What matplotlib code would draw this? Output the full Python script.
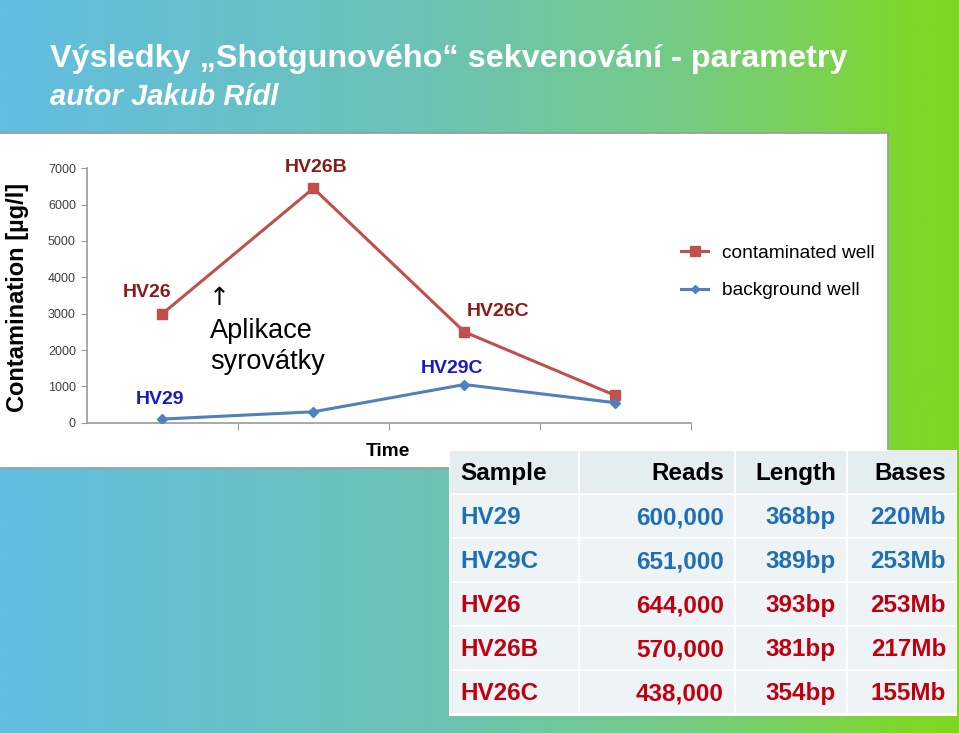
import numpy as np
import matplotlib
matplotlib.use("Agg")
import matplotlib.pyplot as plt
from matplotlib.colors import LinearSegmentedColormap
from matplotlib.patches import Rectangle
from matplotlib.lines import Line2D

# ---------------- data ----------------
time_points = [1, 2, 3, 4]
contaminated = [3000, 6450, 2500, 750]
background = [100, 300, 1050, 550]
red_labels = {0: "HV26", 1: "HV26B", 2: "HV26C"}
blue_labels = {0: "HV29", 2: "HV29C"}
yticks = [0, 1000, 2000, 3000, 4000, 5000, 6000, 7000]

table_header = ["Sample", "Reads", "Length", "Bases"]
samples = ["HV29", "HV29C", "HV26", "HV26B", "HV26C"]
reads = ["600,000", "651,000", "644,000", "570,000", "438,000"]
lengths = ["368bp", "389bp", "393bp", "381bp", "354bp"]
bases = ["220Mb", "253Mb", "253Mb", "217Mb", "155Mb"]
row_groups = ["blue", "blue", "red", "red", "red"]

W, H = 959, 733
fig = plt.figure(figsize=(W / 100, H / 100), dpi=100)
plt.rcParams['font.family'] = ['Liberation Sans', 'DejaVu Sans']

def fx(px):
    return px / W

def fy(py):
    return 1 - py / H

# ---------------- background gradient ----------------
bg = fig.add_axes([0, 0, 1, 1], zorder=0)
bg.set_axis_off()
cmap = LinearSegmentedColormap.from_list("slide", [
    (0.0, (98/255, 190/255, 226/255)),
    (0.45, (108/255, 195/255, 180/255)),
    (0.70, (116/255, 203/255, 135/255)),
    (0.85, (122/255, 210/255, 85/255)),
    (0.95, (126/255, 214/255, 40/255)),
    (1.0, (126/255, 215/255, 35/255)),
])
grad = np.linspace(0, 1, 512)[None, :]
bg.imshow(grad, aspect="auto", cmap=cmap, extent=[0, 1, 0, 1])
bg.set_xlim(0, 1)
bg.set_ylim(0, 1)

# title
fig.text(fx(50), fy(67), "Výsledky „Shotgunového“ sekvenování - parametry",
         color="white", fontsize=23.3, fontweight="bold", va="baseline", ha="left")
fig.text(fx(50), fy(105), "autor Jakub Rídl", color="white", fontsize=21,
         fontweight="bold", style="italic", va="baseline", ha="left")

# white chart picture
pic = Rectangle((fx(-2), fy(468)), fx(890), fy(133) - fy(468),
                transform=fig.transFigure, facecolor="white",
                edgecolor="#9a9a9a", linewidth=1.2, zorder=1)
fig.patches.append(pic)

# ---------------- chart ----------------
ax = fig.add_axes([fx(87), fy(422.7), fx(690.7 - 87), fy(168.3) - fy(422.7)], zorder=2)
ax.patch.set_alpha(0)
red_line = "#C0504D"
blue_line = "#4F81BD"
ax.plot(time_points, contaminated, color=red_line, lw=2.2, marker="s", ms=6.5,
        markerfacecolor=red_line, markeredgecolor=red_line, zorder=3)
ax.plot(time_points, background, color=blue_line, lw=2.2, marker="D", ms=5,
        markerfacecolor=blue_line, markeredgecolor=blue_line, zorder=3)
ax.set_xlim(0.5, 4.5)
ax.set_ylim(0, 7000)
ax.set_yticks(yticks)
ax.set_yticklabels([str(v) for v in yticks], fontsize=9, color="#404040")
ax.set_xticks([1.5, 2.5, 3.5, 4.5])
ax.set_xticklabels([])
ax.tick_params(axis="y", length=4, color="#999999", pad=4)
ax.tick_params(axis="x", length=5, color="#999999", direction="out")
for s in ["top", "right"]:
    ax.spines[s].set_visible(False)
ax.spines["left"].set_color("#999999")
ax.spines["bottom"].set_color("#999999")
ax.spines["left"].set_linewidth(1.2)
ax.spines["bottom"].set_linewidth(1.2)

red_text = "#8B1A1A"
blue_text = "#1A1AC8"
red_offsets = {0: (-11, 15), 1: (2, 15), 2: (24, 14.4)}
for i, lab in red_labels.items():
    dx, dy = red_offsets[i]
    ax.annotate(lab, (time_points[i], contaminated[i]), xytext=(dx, dy),
                textcoords="offset points", ha="center", va="center",
                fontsize=14, fontweight="bold", color=red_text)
blue_offsets = {0: (-1.5, 14.4), 2: (-8.6, 11.5)}
for i, lab in blue_labels.items():
    dx, dy = blue_offsets[i]
    ax.annotate(lab, (time_points[i], background[i]), xytext=(dx, dy),
                textcoords="offset points", ha="center", va="center",
                fontsize=14, fontweight="bold", color=blue_text)

fig.text(fx(18), fy(297), "Contamination [µg/l]", rotation=90, fontsize=17,
         fontweight="bold", ha="center", va="center", color="black", zorder=3)
fig.text(fx(388), fy(451), "Time", fontsize=13.8, fontweight="bold",
         ha="center", va="center", color="black", zorder=3)

# annotation
fig.text(fx(209), fy(298), "↑", fontsize=18, ha="left", va="center", zorder=3,
         family=["DejaVu Sans"])
fig.text(fx(210), fy(338), "Aplikace", fontsize=19.5, ha="left", va="baseline", zorder=3)
fig.text(fx(210), fy(369), "syrovátky", fontsize=19.5, ha="left", va="baseline", zorder=3)

# legend
handles = [Line2D([], [], color=red_line, lw=2.2, marker="s", ms=6.5),
           Line2D([], [], color=blue_line, lw=2.2, marker="D", ms=4.5)]
leg = fig.legend(handles, ["contaminated well", "background well"],
                 loc="upper left", bbox_to_anchor=(fx(664), fy(227)),
                 frameon=False, fontsize=13.8, handlelength=1.4,
                 labelspacing=1.05, handletextpad=0.7)
leg.set_zorder(4)

# ---------------- table ----------------
tx = fig.add_axes([0, 0, 1, 1], zorder=5)
tx.set_axis_off()
tx.set_xlim(0, W)
tx.set_ylim(H, 0)
col_edges = [449, 579, 735, 847, 957]
row_top = 450
row_h = 44
gap = 2
text_colors = {"blue": "#1E6FB8", "red": "#C00010"}
table_rows = [table_header] + [list(r) for r in zip(samples, reads, lengths, bases)]
n_rows = len(table_rows)
tx.add_patch(Rectangle((col_edges[0], row_top), col_edges[-1] - col_edges[0],
                       n_rows * row_h + 2, facecolor="white", edgecolor="none"))
for r, row in enumerate(table_rows):
    y0 = row_top + r * row_h
    face = "#E4EEF1" if r == 0 else "#EEF4F6"
    color = "black" if r == 0 else text_colors[row_groups[r - 1]]
    for c, val in enumerate(row):
        x0, x1 = col_edges[c], col_edges[c + 1]
        tx.add_patch(Rectangle((x0 + gap / 2, y0 + gap / 2), x1 - x0 - gap,
                               row_h - gap, facecolor=face, edgecolor="none"))
        if c == 0:
            tx.text(x0 + 11, y0 + 30, val, ha="left", va="baseline",
                    fontsize=17.5, fontweight="bold", color=color)
        else:
            tx.text(x1 - 11, y0 + 30, val, ha="right", va="baseline",
                    fontsize=17.5, fontweight="bold", color=color)

fig.savefig("out.png", dpi=100)
